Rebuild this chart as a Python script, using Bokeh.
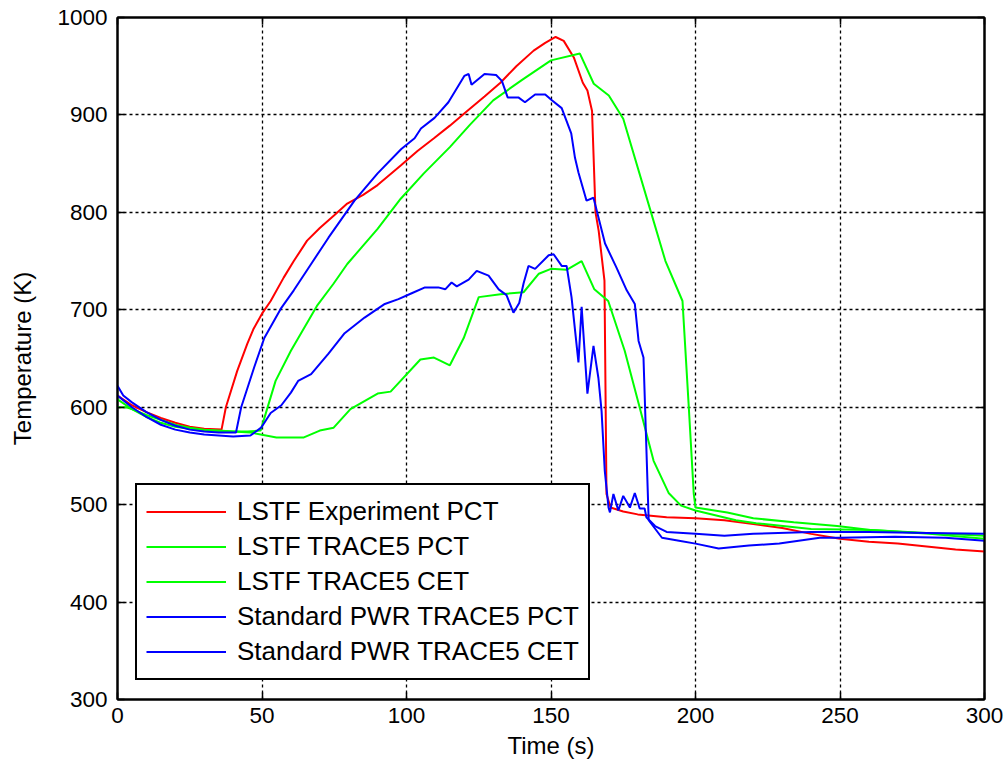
from bokeh.plotting import figure
from bokeh.models import LinearAxis, SingleIntervalTicker, Range1d
from bokeh.embed import file_html
from bokeh.resources import INLINE

# ---- data ----
exp_pct_t = [0, 5, 10, 15, 20, 25, 30, 36, 37.5, 41.4, 44.9, 47, 50, 53, 57.5, 61, 65.6, 70, 75, 79.5, 85, 90,
             98, 103.8, 109.5, 115, 121, 127, 132.5, 138, 144, 148, 151.6, 154.4, 157.9, 161, 162.6, 164.2,
             165.4, 166.5, 168.5, 169.2, 170.6, 175, 180, 190, 200, 210, 220, 230, 240, 250, 260, 270, 280,
             290, 300]
exp_pct_T = [612, 602, 595, 589, 584, 580, 578, 577, 600, 637, 665, 680, 696, 709, 733, 750, 771, 784, 797, 809,
             818, 828, 848, 863, 876, 889, 904, 919, 933, 950, 966, 974, 980, 976, 959, 933, 925, 904, 800, 781,
             730, 511, 497, 493, 490, 487, 486, 484, 480, 476, 470, 465, 462, 460, 457, 454, 452]

lstf_pct_t = [0, 3, 5, 10, 15, 20, 25, 30, 35, 40, 45, 49.5, 54.7, 60, 69, 74.8, 79.5, 90, 98, 106, 115, 122,
              130, 140, 150, 160, 164.8, 170, 175, 184.4, 189.6, 195.5, 197.6, 199.4, 200, 211, 220, 234, 249,
              260.5, 280, 300]
lstf_pct_T = [600, 600, 598, 592, 587, 582, 579, 577, 576, 575, 575, 576, 627, 658, 704, 727, 747, 783, 814, 840,
              867, 890, 915, 936, 956, 963, 932, 920, 896, 802, 750, 709, 604, 511, 497, 492, 486, 482, 478,
              474, 471, 468]

lstf_cet_t = [0, 5, 10, 15, 20, 30, 40, 46, 55, 64.5, 70, 74.8, 80.6, 90, 94.5, 104.8, 109.5, 115, 119.8, 125,
              132.5, 140.5, 145.8, 150, 155.4, 160.6, 165, 169.8, 175.5, 180.3, 185.5, 190.7, 195, 200, 214,
              221, 240, 261, 281, 300]
lstf_cet_T = [608, 598, 590, 584, 580, 576, 575, 574, 569, 569, 576, 579, 598, 614, 616, 649, 651, 643, 671, 713,
              716, 718, 737, 742, 741, 750, 721, 709, 658, 604, 545, 512, 499, 494, 484, 481, 475, 474, 470, 465]

pwr_pct_t = [0, 2, 5, 10, 15, 20, 25, 30, 35, 41, 42.8, 47.3, 50.8, 56.7, 61, 67, 73, 82, 90, 98.2, 102.8, 105,
             109.7, 114.5, 120, 121.5, 122.5, 127, 131, 133, 135, 138.7, 141, 144.5, 148, 150.3, 153.7, 157,
             158.3, 159.5, 162.3, 164.7, 168.7, 172.7, 176.2, 179, 180.3, 182, 183.8, 188.4, 194.3, 200, 208,
             218.5, 229, 243, 250, 269, 286.5, 300]
pwr_pct_T = [622, 612, 605, 595, 587, 581, 577, 575, 574, 574, 600, 641, 671, 702, 720, 747, 774, 812, 840, 865,
             876, 886, 897, 913, 940, 942, 931, 942, 941, 935, 918, 918, 913, 921, 921, 915, 907, 881, 856, 841,
             812, 815, 768, 743, 720, 706, 668, 651, 484, 466, 463, 460, 455, 458, 460, 466, 466, 467, 466, 463]

pwr_cet_t = [0, 5, 10, 15, 20, 25, 30, 35, 40, 46, 49.7, 53, 56.7, 60, 62.5, 67, 73, 78.6, 85.5, 92.5, 97.2,
             101.8, 106.4, 111, 113.4, 115.6, 117.4, 121.5, 124.3, 128.4, 131.9, 134.6, 137, 139, 140.5, 142.2,
             144.5, 149.2, 150.9, 153.7, 155.4, 157.1, 159.5, 160.6, 162.6, 164.7, 166.4, 167.5, 168.6, 169.9,
             170.4, 171.6, 173.3, 175, 177.3, 179, 180.7, 182.4, 183, 186, 190, 200, 210, 220, 240, 260, 280, 300]
pwr_cet_T = [612, 600, 590, 582, 577, 574, 572, 571, 570, 571, 579, 594, 602, 615, 627, 634, 655, 676, 692, 706,
             711, 717, 723, 723, 721, 728, 724, 731, 740, 735, 721, 715, 697, 707, 727, 745, 742, 756, 757, 745,
             745, 713, 646, 703, 614, 663, 630, 596, 535, 497, 492, 511, 494, 509, 497, 512, 496, 496, 487, 478,
             472, 470, 468, 470, 472, 472, 471, 470]

labels = ["LSTF Experiment PCT", "LSTF TRACE5 PCT", "LSTF TRACE5 CET",
          "Standard PWR TRACE5 PCT", "Standard PWR TRACE5 CET"]
colors = ["#ff0000", "#00ff00", "#00ff00", "#0000ff", "#0000ff"]
series = [(exp_pct_t, exp_pct_T), (lstf_pct_t, lstf_pct_T), (lstf_cet_t, lstf_cet_T),
          (pwr_pct_t, pwr_pct_T), (pwr_cet_t, pwr_cet_T)]

x_ticks = [0, 50, 100, 150, 200, 250, 300]
y_ticks = [300, 400, 500, 600, 700, 800, 900, 1000]

FONT = "Liberation Sans"

p = figure(width=1008, height=772, output_backend="svg", toolbar_location=None,
           x_range=Range1d(0, 300), y_range=Range1d(300, 1000),
           min_border_left=117, min_border_right=24, min_border_top=17, min_border_bottom=73,
           background_fill_color="white", border_fill_color="white")
p.outline_line_color = "black"
p.outline_line_width = 2

for (t, T), lab, c in zip(series, labels, colors):
    p.line(t, T, line_color=c, line_width=2, legend_label=lab)

xt = SingleIntervalTicker(interval=50, num_minor_ticks=0)
yt = SingleIntervalTicker(interval=100, num_minor_ticks=0)
p.xaxis.ticker = xt
p.yaxis.ticker = yt
p.xgrid.ticker = xt
p.ygrid.ticker = yt

for ax in [p.xaxis[0], p.yaxis[0]]:
    ax.axis_line_color = "black"
    ax.axis_line_width = 2
    ax.major_tick_in = 7
    ax.major_tick_out = 0
    ax.major_tick_line_color = "black"
    ax.major_tick_line_width = 1.5
    ax.minor_tick_line_color = None
    ax.major_label_text_font = FONT
    ax.major_label_text_font_size = "22.5px"
    ax.major_label_text_color = "black"
    ax.axis_label_text_font = FONT
    ax.axis_label_text_font_size = "24px"
    ax.axis_label_text_font_style = "normal"
    ax.axis_label_text_color = "black"

p.xaxis.axis_label = "Time (s)"
p.yaxis.axis_label = "Temperature (K)"
p.xaxis.major_label_standoff = 8
p.yaxis.major_label_standoff = 10
p.xaxis.axis_label_standoff = 6
p.yaxis.axis_label_standoff = 18

# mirrored tick axes (box style), no labels
top = LinearAxis(ticker=xt, major_tick_in=7, major_tick_out=0,
                 minor_tick_line_color=None, axis_line_color="black", axis_line_width=2,
                 major_tick_line_width=1.5, major_label_standoff=0,
                 major_label_overrides={v: "" for v in x_ticks})
right = LinearAxis(ticker=yt, major_tick_in=7, major_tick_out=0,
                   minor_tick_line_color=None, axis_line_color="black", axis_line_width=2,
                   major_tick_line_width=1.5, major_label_standoff=0,
                   major_label_overrides={v: "" for v in y_ticks})
p.add_layout(top, "above")
p.add_layout(right, "right")

for g in [p.xgrid[0], p.ygrid[0]]:
    g.grid_line_color = "black"
    g.grid_line_dash = "3 3"
    g.grid_line_width = 1.3

lg = p.legend[0]
lg.location = (18, 19)
lg.margin = 0
lg.padding = 9
lg.spacing = 0
lg.label_height = 35
lg.glyph_height = 35
lg.glyph_width = 80
lg.label_standoff = 11
lg.label_text_font = FONT
lg.label_text_font_size = "26px"
lg.label_text_color = "black"
lg.border_line_color = "black"
lg.border_line_alpha = 1
lg.border_line_width = 2
lg.background_fill_color = "white"
lg.background_fill_alpha = 1

open("out.html", "w").write(file_html(p, INLINE))
